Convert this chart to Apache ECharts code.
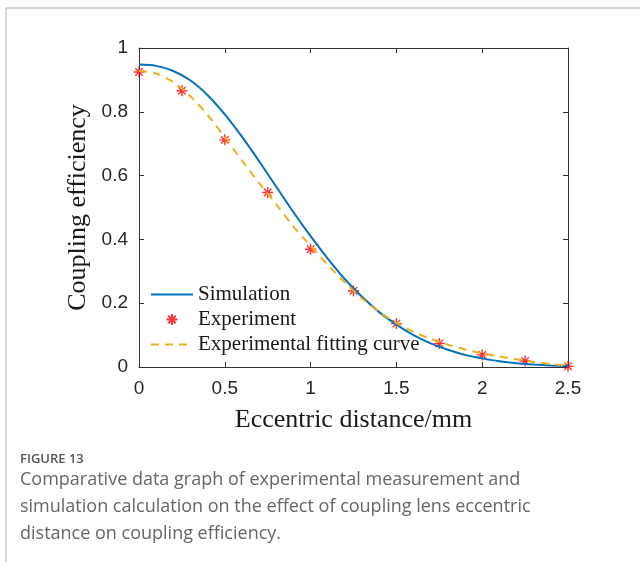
<!DOCTYPE html>
<html>
<head>
<meta charset="utf-8">
<script src="https://cdn.jsdelivr.net/npm/echarts@6/dist/echarts.min.js"></script>
<style>
html,body{margin:0;padding:0;background:#fff;}
#chart{width:640px;height:562px;}
</style>
</head>
<body>
<div id="chart"></div>
<script>
// Data
const simX = [0,0.1,0.2,0.3,0.4,0.5,0.6,0.7,0.8,0.9,1.0,1.1,1.2,1.3,1.4,1.5,1.6,1.7,1.8,1.9,2.0,2.1,2.2,2.3,2.4,2.5];
const simY = [0.948,0.944,0.928,0.898,0.852,0.792,0.722,0.645,0.565,0.485,0.41,0.34,0.275,0.22,0.172,0.133,0.10,0.074,0.054,0.038,0.027,0.018,0.012,0.008,0.005,0.003];
const fitX = [0,0.1,0.2,0.3,0.4,0.5,0.6,0.7,0.8,0.9,1.0,1.1,1.2,1.3,1.4,1.5,1.6,1.7,1.8,1.9,2.0,2.1,2.2,2.3,2.4,2.5];
const fitY = [0.928,0.92,0.893,0.848,0.79,0.72,0.647,0.577,0.51,0.44,0.38,0.32,0.265,0.215,0.173,0.138,0.11,0.088,0.07,0.055,0.043,0.033,0.024,0.016,0.009,0.004];
const expX = [0,0.25,0.5,0.75,1.0,1.25,1.5,1.75,2.0,2.25,2.5];
const expY = [0.925,0.866,0.712,0.547,0.369,0.239,0.136,0.074,0.038,0.019,0.002];
const xTicks = ['0','0.5','1','1.5','2','2.5'];
const yTicks = ['0','0.2','0.4','0.6','0.8','1'];
const seriesNames = ['Simulation','Experiment','Experimental fitting curve'];
const captionTitle = 'FIGURE 13';
const captionLines = [
  'Comparative data graph of experimental measurement and',
  'simulation calculation on the effect of coupling lens eccentric',
  'distance on coupling efficiency.'
];

const pair = (xs, ys) => xs.map((x, i) => [x, ys[i]]);
const starPath = 'path://M5,0L5,10M0,5L10,5M1.6,1.6L8.4,8.4M1.6,8.4L8.4,1.6';
const axisColor = '#333333';
const tickFont = {fontFamily: 'Liberation Sans', fontSize: 19, color: '#262626'};

const chart = echarts.init(document.getElementById('chart'), null, {renderer: 'canvas'});
const baseAxis = {
  axisLine: {show: true, onZero: false, lineStyle: {color: axisColor, width: 1}},
  axisTick: {show: true, inside: true, length: 5, lineStyle: {color: axisColor}},
  splitLine: {show: false}
};
chart.setOption({
  animation: false,
  backgroundColor: '#fff',
  grid: {left: 139, top: 48, right: 72, bottom: 195, containLabel: false},
  xAxis: [
    Object.assign({}, baseAxis, {
      type: 'value', min: 0, max: 2.5, interval: 0.5, position: 'bottom',
      axisLabel: Object.assign({margin: 12, formatter: v => xTicks[Math.round(v / 0.5)]}, tickFont),
      name: 'Eccentric distance/mm', nameLocation: 'middle', nameGap: 40,
      nameTextStyle: {fontFamily: 'Liberation Serif', fontSize: 26, color: '#1a1a1a'}
    }),
    Object.assign({}, baseAxis, {
      type: 'value', min: 0, max: 2.5, interval: 0.5, position: 'top',
      axisLabel: {show: false}
    })
  ],
  yAxis: [
    Object.assign({}, baseAxis, {
      type: 'value', min: 0, max: 1, interval: 0.2, position: 'left',
      axisLabel: Object.assign({margin: 11, formatter: v => yTicks[Math.round(v / 0.2)]}, tickFont),
      name: 'Coupling efficiency', nameLocation: 'middle', nameGap: 33,
      nameTextStyle: {fontFamily: 'Liberation Serif', fontSize: 26, color: '#1a1a1a'}
    }),
    Object.assign({}, baseAxis, {
      type: 'value', min: 0, max: 1, interval: 0.2, position: 'right',
      axisLabel: {show: false}
    })
  ],
  legend: {
    orient: 'vertical', left: 145, top: 279,
    itemWidth: 42, itemHeight: 11, itemGap: 4,
    textStyle: {fontFamily: 'Liberation Serif', fontSize: 21, lineHeight: 21, color: '#1a1a1a'},
    data: [
      {name: seriesNames[0], itemStyle: {opacity: 0}},
      {name: seriesNames[1]},
      {name: seriesNames[2], itemStyle: {opacity: 0}}
    ]
  },
  series: [
    {
      name: seriesNames[0], type: 'line', data: pair(simX, simY), smooth: 0.3,
      showSymbol: false, symbol: 'none',
      lineStyle: {color: '#0072BD', width: 2}, itemStyle: {color: '#0072BD'}
    },
    {
      name: seriesNames[1], type: 'scatter', data: pair(expX, expY),
      symbol: starPath, symbolSize: 11,
      itemStyle: {color: 'rgba(0,0,0,0)', borderColor: '#ff0000', borderWidth: 1.4}
    },
    {
      name: seriesNames[2], type: 'line', data: pair(fitX, fitY), smooth: 0.3,
      showSymbol: false, symbol: 'none',
      lineStyle: {color: '#EDB120', width: 2, type: [8, 6]}, itemStyle: {color: '#EDB120'}
    }
  ],
  graphic: [
    {type: 'line', shape: {x1: 6, y1: 8, x2: 640, y2: 8}, style: {stroke: '#c8c8c8', lineWidth: 1.5}},
    {type: 'line', shape: {x1: 6, y1: 8, x2: 6, y2: 562}, style: {stroke: '#c8c8c8', lineWidth: 1.5}},
    {type: 'text', left: 20, top: 453, style: {text: captionTitle, font: '600 13px "Open Sans"', fill: '#555555'}},
    {type: 'text', left: 20, top: 471, style: {text: captionLines[0], font: '18px "Open Sans"', fill: '#666666'}},
    {type: 'text', left: 20, top: 498, style: {text: captionLines[1], font: '18px "Open Sans"', fill: '#666666'}},
    {type: 'text', left: 20, top: 525, style: {text: captionLines[2], font: '18px "Open Sans"', fill: '#666666'}}
  ]
});
</script>
</body>
</html>
